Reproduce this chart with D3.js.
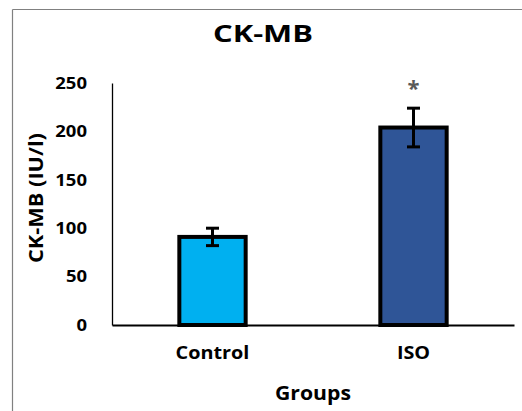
<!DOCTYPE html>
<html>
<head>
<meta charset="utf-8">
<script src="https://cdn.jsdelivr.net/npm/d3@7"></script>
<style>
  html, body { margin: 0; padding: 0; background: #fff; }
  svg { display: block; }
</style>
</head>
<body>
<svg id="chart" width="522" height="411"></svg>
<script>
// CK-MB activity by group (mean ± error)
const groups = ["Control", "ISO"];
const means = [91, 204];
const errors = [9, 20];
const barColors = ["#00B0F0", "#2F5597"];
const significance = ["", "*"];
const yTicks = [0, 50, 100, 150, 200, 250];

const font = "'Open Sans', sans-serif";
const svg = d3.select("#chart");

// widen text glyphs slightly (the chart uses a broad bold face)
function widen(sel, factor) {
  sel.each(function () {
    const w = this.getComputedTextLength();
    d3.select(this).attr("textLength", w * factor).attr("lengthAdjust", "spacingAndGlyphs");
  });
}

// outer frame (top and left edges visible)
svg.append("line").attr("x1", 12.5).attr("x2", 522).attr("y1", 9.5).attr("y2", 9.5)
  .attr("stroke", "#808080").attr("stroke-width", 1.2);
svg.append("line").attr("x1", 12.5).attr("x2", 12.5).attr("y1", 9.5).attr("y2", 411)
  .attr("stroke", "#808080").attr("stroke-width", 1.2);

const plot = { left: 112, right: 514, top: 83, bottom: 325 };

const x = d3.scaleBand().domain(groups).range([plot.left, plot.right]).paddingInner(0.67).paddingOuter(0.335);
const y = d3.scaleLinear().domain([0, 250]).range([plot.bottom, plot.top]);

// y axis
const yAxis = svg.append("g").attr("transform", `translate(${plot.left},0)`)
  .call(d3.axisLeft(y).tickValues(yTicks).tickSize(0).tickPadding(25));
yAxis.select(".domain").attr("stroke", "#000").attr("stroke-width", 1.3);
yAxis.selectAll("text").attr("font-family", font).attr("font-weight", "bold")
  .attr("font-size", 16.5).attr("fill", "#000");
widen(yAxis.selectAll("text"), 1.12);

// bars
const bars = groups.map((g, i) => ({ g, m: means[i], e: errors[i], c: barColors[i], s: significance[i] }));

svg.selectAll("rect.bar").data(bars).enter().append("rect")
  .attr("class", "bar")
  .attr("x", d => x(d.g))
  .attr("width", x.bandwidth())
  .attr("y", d => y(d.m))
  .attr("height", d => y(0) - y(d.m))
  .attr("fill", d => d.c)
  .attr("stroke", "#000")
  .attr("stroke-width", 4);

// x axis baseline
const xAxis = svg.append("g").attr("transform", `translate(0,${plot.bottom})`)
  .call(d3.axisBottom(x).tickSize(0).tickPadding(21));
xAxis.select(".domain").attr("stroke", "#000").attr("stroke-width", 2.2);
xAxis.selectAll("text").attr("font-family", font).attr("font-weight", "bold")
  .attr("font-size", 18).attr("fill", "#000");
widen(xAxis.selectAll("text"), 1.1);

// error bars
const eb = svg.selectAll("g.err").data(bars).enter().append("g").attr("class", "err")
  .attr("stroke", "#000").attr("stroke-width", 3);
eb.append("line")
  .attr("x1", d => x(d.g) + x.bandwidth() / 2).attr("x2", d => x(d.g) + x.bandwidth() / 2)
  .attr("y1", d => y(d.m + d.e)).attr("y2", d => y(d.m - d.e));
eb.append("line")
  .attr("x1", d => x(d.g) + x.bandwidth() / 2 - 6.5).attr("x2", d => x(d.g) + x.bandwidth() / 2 + 6.5)
  .attr("y1", d => y(d.m + d.e)).attr("y2", d => y(d.m + d.e));
eb.append("line")
  .attr("x1", d => x(d.g) + x.bandwidth() / 2 - 6.5).attr("x2", d => x(d.g) + x.bandwidth() / 2 + 6.5)
  .attr("y1", d => y(d.m - d.e)).attr("y2", d => y(d.m - d.e));

// significance marks
svg.selectAll("text.sig").data(bars).enter().append("text")
  .attr("class", "sig")
  .attr("x", d => x(d.g) + x.bandwidth() / 2)
  .attr("y", d => y(d.m + d.e) - 12)
  .attr("text-anchor", "middle")
  .attr("font-family", font).attr("font-weight", "bold").attr("font-size", 22)
  .attr("fill", "#595959")
  .text(d => d.s);

// title
svg.append("text").attr("x", 263).attr("y", 41.5).attr("text-anchor", "middle")
  .attr("font-family", font).attr("font-weight", "bold").attr("font-size", 24)
  .attr("fill", "#000").attr("textLength", 100).attr("lengthAdjust", "spacingAndGlyphs")
  .text("CK-MB");

// axis titles
svg.append("text").attr("transform", "translate(42.5,198) rotate(-90)")
  .attr("text-anchor", "middle")
  .attr("font-family", font).attr("font-weight", "bold").attr("font-size", 19)
  .attr("fill", "#000").attr("textLength", 130).attr("lengthAdjust", "spacingAndGlyphs")
  .text("CK-MB (IU/l)");

svg.append("text").attr("x", 313).attr("y", 400).attr("text-anchor", "middle")
  .attr("font-family", font).attr("font-weight", "bold").attr("font-size", 19)
  .attr("fill", "#000").attr("textLength", 76).attr("lengthAdjust", "spacingAndGlyphs")
  .text("Groups");
</script>
</body>
</html>
